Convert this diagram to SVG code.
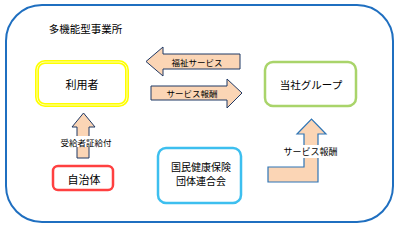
<svg xmlns="http://www.w3.org/2000/svg" width="400" height="229" viewBox="0 0 400 229">
<style>
text{font-family:"Noto Sans CJK JP","Noto Sans CJK SC",sans-serif;fill:#000;text-anchor:middle;dominant-baseline:central}
.arr{fill:#FBD5B5;stroke:#1F3864;stroke-width:1}
.arrb{fill:#FBD5B5;stroke:#2E75B6;stroke-width:1.2}
.lbl{fill:#fff}
</style>
<rect x="6" y="5" width="387" height="217" rx="36" fill="#fff" stroke="#1F6FC0" stroke-width="2"/>
<text x="85.5" y="28" font-size="10.5">多機能型事業所</text>
<g id="connectors">
<polygon class="arr" points="146,61.5 163,47 163,54 240,54 240,69 163,69 163,76"/>
<text x="197" y="61.5" font-size="8.5">福祉サービス</text>
<polygon class="arr" points="151,86 227,86 227,79 242,93 227,108 227,100 151,100"/>
<text x="192" y="93" font-size="8.5">サービス報酬</text>
<polygon class="arr" points="77,158 77,127 72,127 83.5,113 95,127 89,127 89,158"/>
<rect class="lbl" x="57" y="136" width="58" height="11"/>
<text x="86" y="141.5" font-size="8.5">受給者証給付</text>
<polygon class="arrb" points="268,167 304,167 304,134 297,134 311.5,119 326,134 318,134 318,182 268,182"/>
<rect class="lbl" x="282" y="145" width="57" height="13"/>
<text x="310.5" y="151.5" font-size="9">サービス報酬</text>
</g>
<g id="riyosha">
<rect x="37" y="62" width="90" height="43" rx="8" fill="#fff" stroke="#FFFF00" stroke-width="4"/>
<rect x="37" y="62" width="90" height="43" rx="8" fill="none" stroke="#FFFFB0" stroke-width="1"/>
<text x="82" y="84" font-size="11">利用者</text>
</g>
<g id="tosha">
<rect x="265" y="62" width="91" height="44" rx="8" fill="#fff" stroke="#A9D46A" stroke-width="2.5"/>
<text x="311" y="84" font-size="10.5">当社グループ</text>
</g>
<g id="jichitai">
<rect x="53" y="166" width="60" height="24" rx="5" fill="#fff" stroke="#FF4040" stroke-width="2.5"/>
<text x="84" y="178.5" font-size="11">自治体</text>
</g>
<g id="kokuho">
<rect x="158" y="148" width="83" height="55" rx="8" fill="#fff" stroke="#3DBFEF" stroke-width="2.5"/>
<text x="201" y="166" font-size="10">国民健康保険</text>
<text x="201" y="180" font-size="10">団体連合会</text>
</g>
</svg>
